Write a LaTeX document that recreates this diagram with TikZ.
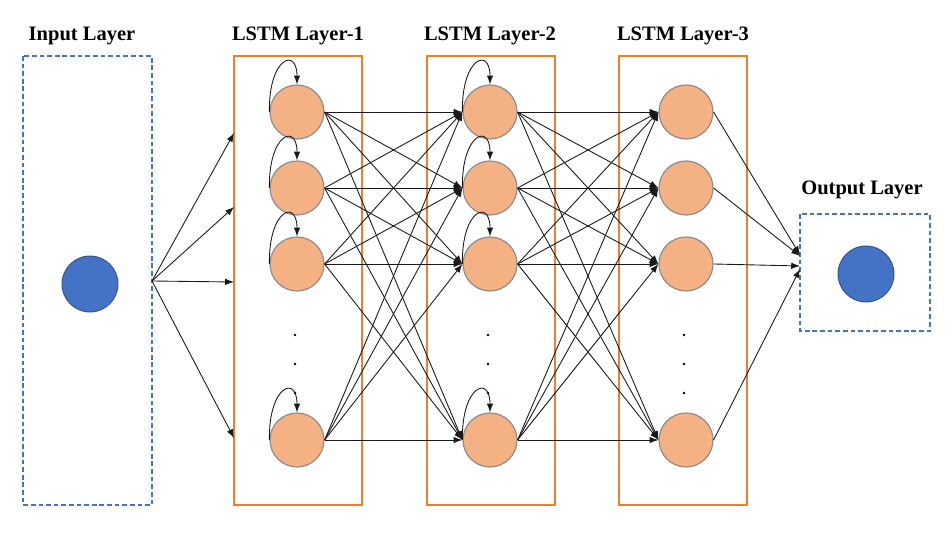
\documentclass[tikz,border=0pt]{standalone}
\usepackage{fontspec}
\setmainfont{Liberation Serif}
\usetikzlibrary{arrows.meta}
\pgfdeclarelayer{background}
\pgfsetlayers{background,main}
\definecolor{cell fill}{RGB}{244,177,131}
\definecolor{cell edge}{RGB}{140,140,140}
\definecolor{box orange}{RGB}{237,125,49}
\definecolor{io blue}{RGB}{68,114,196}
\definecolor{io edge}{RGB}{47,82,143}
\def\layers{297/a, 490/b, 686/c}
\def\rows{423/1, 347/2, 271/3, 95/4}
\tikzset{
  title/.style={font=\fontsize{17.5}{20}\selectfont\bfseries},
  lstm box/.style={draw=box orange, line width=1.3pt},
  io box/.style={draw=io blue, line width=1.1pt, dash pattern=on 4pt off 2.5pt}
  }
\tikzstyle{vertex}=[circle,draw=cell edge,fill=cell fill,line width=1pt,minimum size=1.62cm,inner sep=0pt]
\tikzstyle{io vertex}=[circle,draw=io edge,fill=io blue,line width=0.8pt,minimum size=1.68cm,inner sep=0pt]
\tikzstyle{edge} = [draw, black!90, line width=0.75pt, -{Latex[length=7.5pt,width=5.5pt]}]

\begin{document}
\begin{tikzpicture}[x=0.03cm,y=0.03cm]
  \useasboundingbox (0,0) rectangle (952,535);

  % The boxes round the layers
  \begin{pgfonlayer}{background}
    \draw[io box] (23,479) rectangle (152,30);
    \draw[lstm box] (234,479) rectangle (362,30);
    \draw[lstm box] (427,479) rectangle (555,30);
    \draw[lstm box] (619,479) rectangle (747,30);
    \draw[io box] (800,321) rectangle (930,204);
  \end{pgfonlayer}

  % The titles
  \node[title] (t-in) at (82,499) {Input Layer};
  \node[title] (t-a) at (298,499) {LSTM Layer-1};
  \node[title] (t-b) at (490,499) {LSTM Layer-2};
  \node[title] (t-c) at (683,499) {LSTM Layer-3};
  \node[title] (t-out) at (862,345) {Output Layer};

  % Input and output
  \node[io vertex] (in) at (90,251) {};
  \node[io vertex] (out) at (866,261) {};
  \coordinate (in-right) at (152,254);

  % The LSTM cells
  \foreach \xx/\ly in \layers {
    \foreach \yy/\rw in \rows
      \node[vertex] (\ly\rw) at (\xx,\yy) {};
    \foreach \yy in {200,171,142}
      \fill (\xx-2,\yy) circle (1.2pt);
  }

  % Into the first layer
  \foreach \yy/\nm in {402/e1, 328/e2, 253/e3, 97/e4} {
    \coordinate (\nm) at (234,\yy);
    \draw[edge] (in-right) -- (\nm);
  }

  % The self loops
  \foreach \ly in {a,b}
    \foreach \yy/\rw in \rows
      \path[edge] (\ly\rw.west) .. controls +(-1,54) and +(0,38) .. (\ly\rw.north);

  % The connections between them
  \foreach \src/\dst in {a/b, b/c}
    \foreach \yy/\ka in \rows
      \foreach \zz/\kb in \rows
        \path[edge] (\src\ka.east) -- (\dst\kb.west);

  % Out of the last layer
  \foreach \yy/\src/\nm in {280/c1/o1, 279/c2/o2, 269/c3/o3, 266/c4/o4} {
    \coordinate (\nm) at (800,\yy);
    \draw[edge] (\src.east) -- (\nm);
  }

\end{tikzpicture}
\end{document}
